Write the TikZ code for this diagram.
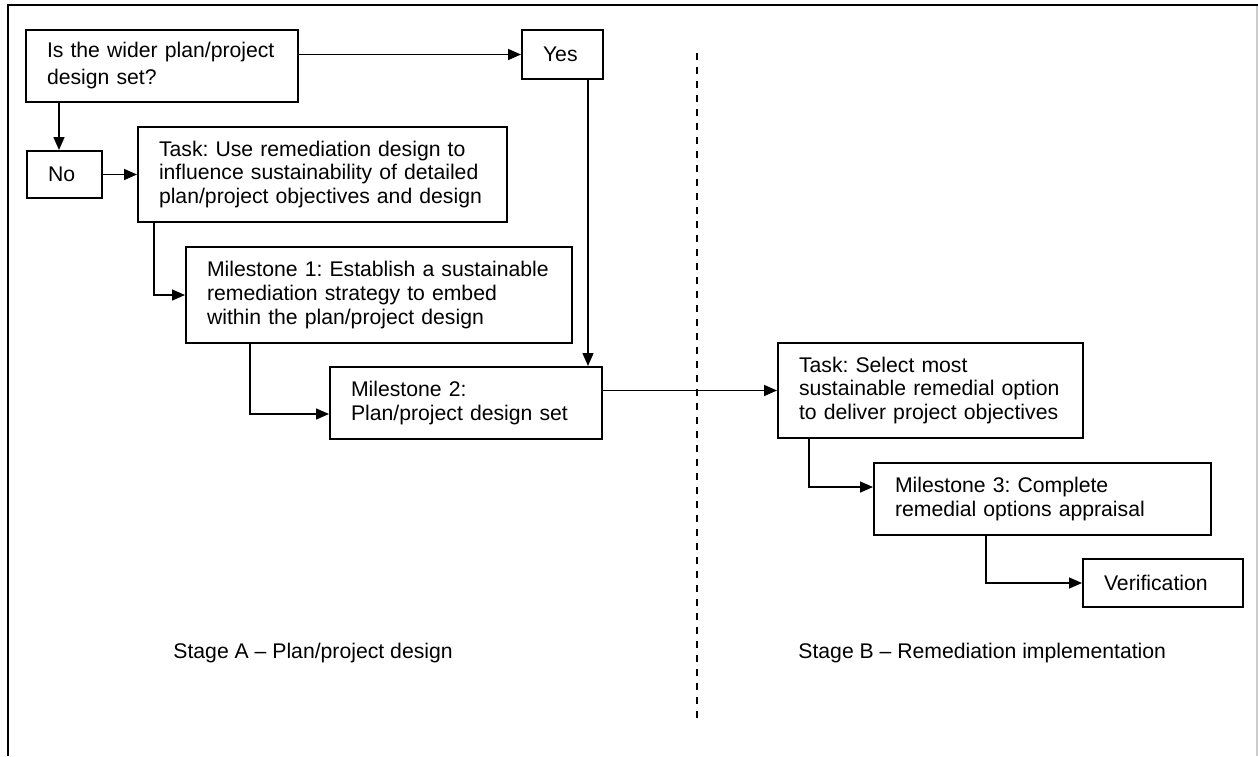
\documentclass[tikz,border=0pt]{standalone}
\usepackage{fontspec}
\setmainfont{Liberation Sans}
\usetikzlibrary{arrows.meta,calc}

\frenchspacing
\hyphenpenalty=10000
\tikzset{
  box/.style={draw, line width=1pt, anchor=north west, align=left, inner xsep=10.5pt, inner ysep=0pt, font=\fontsize{10.6}{11.9}\selectfont},
  arr/.style={line width=0.75pt, -{Triangle[length=6.5pt,width=5.5pt]}},
  stagelabel/.style={anchor=west, inner sep=0pt, font=\fontsize{10.6}{11.9}\selectfont},
}

\begin{document}
\begin{tikzpicture}[x=0.5pt,y=0.5pt,yscale=-1,xscale=1]
\useasboundingbox (0,0) rectangle (1258,756);

%Shape: Frame
\draw[line width=1pt] (8,756) -- (8,5) -- (1258,5);
\draw[line width=1pt, black!20] (1257,6) -- (1257,756);

%Straight Lines: stage divider
\draw[line width=0.65pt, dash pattern=on 3.5pt off 3.5pt] (697,53) -- (697,718);

% Boxes, stage A
\node[box, text width=115pt, minimum height=36pt, font=\fontsize{10.6}{13.5}\selectfont] (q) at (25,29) {Is the wider plan/project\\design set?};
\node[box, text width=19.5pt, minimum height=24.5pt] (yes) at (521,29) {Yes};
\node[box, text width=16.5pt, minimum height=23.5pt] (no) at (26,150) {No};
\node[box, text width=163.5pt, minimum height=47.5pt] (task1) at (137,126) {Task: Use remediation design to\\influence sustainability of detailed\\plan/project objectives and design};
\node[box, text width=172pt, minimum height=48pt] (m1) at (185,246) {Milestone 1: Establish a sustainable\\remediation strategy to embed\\within the plan/project design};
\node[box, text width=115pt, minimum height=36pt] (m2) at (329,366) {Milestone 2:\\Plan/project design set};

% Boxes, stage B
\node[box, text width=131.5pt, minimum height=47.5pt] (task2) at (777,342) {Task: Select most\\sustainable remedial option\\to deliver project objectives};
\node[box, text width=147.5pt, minimum height=36pt] (m3) at (873,462) {Milestone 3: Complete\\remedial options appraisal};
\node[box, text width=59pt, minimum height=24pt] (ver) at (1082,558) {Verification};

% Text Node
\node[stagelabel] (stageA) at (173,653) {Stage A \textendash{} Plan/project design};
% Text Node
\node[stagelabel] (stageB) at (798,653) {Stage B \textendash{} Remediation implementation};

%Straight Lines: connectors
\coordinate (nx) at ($(no.north)+(-5.5,0)$);
\draw[arr] (q.east |- yes.west) -- (yes.west);
\draw[arr] (q.south -| nx) -- (nx);
\draw[arr] (no.east) -- (task1.west);
\draw[arr] ($(task1.south west)+(17,0)$) |- (m1.west);
\draw[arr] ($(m1.south west)+(65,0)$) |- ($(m2.west)+(0,11)$);
\coordinate (yx) at ($(yes.south east)+(-16,0)$);
\draw[arr] (yx) -- (yx |- m2.north);
\draw[arr] (m2.east |- task2.west) -- (task2.west);
\draw[arr] ($(task2.south west)+(32,0)$) |- ($(m3.west)+(0,-12)$);
\draw[arr] ($(m3.south west)+(113,0)$) |- (ver.west);

\end{tikzpicture}
\end{document}
